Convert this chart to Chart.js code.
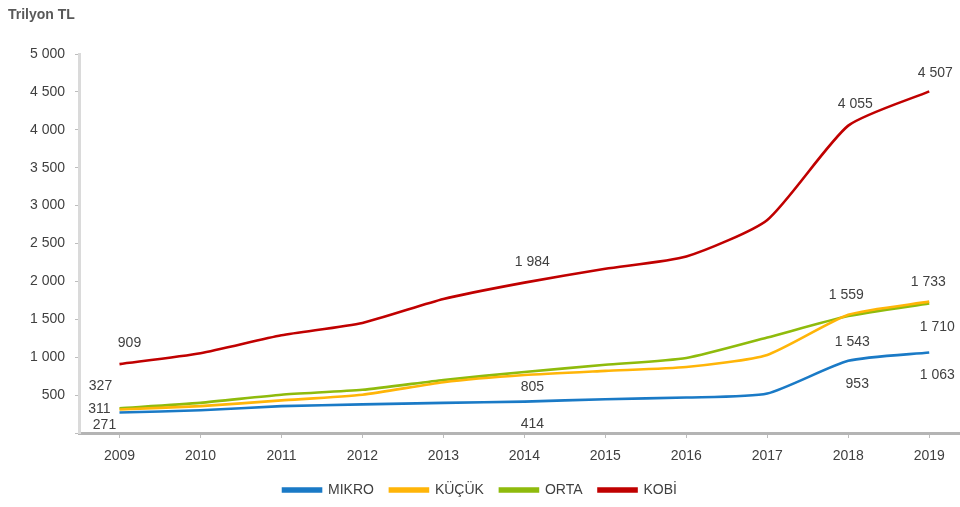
<!DOCTYPE html>
<html>
<head>
<meta charset="utf-8">
<script src="https://cdn.jsdelivr.net/npm/chart.js@4"></script>
<style>
  html, body { margin: 0; padding: 0; background: #fff; overflow: hidden; }
  #wrap { position: relative; width: 960px; height: 507px; }
</style>
</head>
<body>
<div id="wrap"><canvas id="chart" width="960" height="507"></canvas></div>
<script>
// ---- data ----
const years = [2009, 2010, 2011, 2012, 2013, 2014, 2015, 2016, 2017, 2018, 2019];
const mikro = [271, 300, 354, 377, 398, 414, 446, 468, 521, 953, 1063];
const kucuk = [311, 354, 430, 505, 670, 765, 820, 870, 1030, 1559, 1733];
const orta  = [327, 398, 505, 570, 700, 805, 900, 990, 1260, 1543, 1710];
const kobi  = [909, 1052, 1289, 1452, 1768, 1984, 2166, 2328, 2811, 4055, 4507];
const seriesNames = ['MIKRO', 'KÜÇÜK', 'ORTA', 'KOBİ'];
const yTicks = [0, 500, 1000, 1500, 2000, 2500, 3000, 3500, 4000, 4500, 5000];
const unitLabel = 'Trilyon TL';

// which points carry a value label: [series, yearIndex]
const labelled = [[0,0],[0,5],[0,9],[0,10],[1,0],[1,9],[1,10],[2,0],[2,5],[2,9],[2,10],[3,0],[3,5],[3,9],[3,10]];
// label offsets from the point (px)
const labelOffsets = {
  '0,0':[-15,13], '0,5':[8,23], '0,9':[9,23], '0,10':[8,23],
  '1,0':[-20,0],  '1,9':[-2,-20], '1,10':[-1,-19],
  '2,0':[-19,-22], '2,5':[8,15], '2,9':[4,26], '2,10':[8,24],
  '3,0':[10,-21], '3,5':[8,-20], '3,9':[7,-21], '3,10':[6,-18]
};

const colors = ['#1a7ac6', '#ffb508', '#8fbb0c', '#c00000'];
const FONT = "'Liberation Sans', Arial, sans-serif";
const TXT = '#404040';

const fmt = v => String(v).replace(/\B(?=(\d{3})+(?!\d))/g, ' ');

const allSeries = [mikro, kucuk, orta, kobi];
const datasets = allSeries.map((vals, i) => ({
  label: seriesNames[i],
  data: years.map((y, j) => ({ x: y, y: vals[j] })),
  borderColor: colors[i],
  backgroundColor: colors[i],
  borderWidth: 2.6,
  pointRadius: 0,
  tension: 0.2,
  fill: false
}));

const valueLabels = {
  id: 'valueLabels',
  afterDatasetsDraw(chart) {
    const ctx = chart.ctx;
    ctx.save();
    ctx.font = '14px ' + FONT;
    ctx.fillStyle = TXT;
    ctx.textAlign = 'center';
    ctx.textBaseline = 'middle';
    labelled.forEach(([s, i]) => {
      const pt = chart.getDatasetMeta(s).data[i];
      const off = labelOffsets[s + ',' + i];
      ctx.fillText(fmt(allSeries[s][i]), pt.x + off[0], pt.y + off[1]);
    });
    ctx.restore();
  }
};

const unitTitle = {
  id: 'unitTitle',
  afterDraw(chart) {
    const ctx = chart.ctx;
    ctx.save();
    ctx.font = 'bold 14px ' + FONT;
    ctx.fillStyle = '#595959';
    ctx.textBaseline = 'middle';
    ctx.fillText(unitLabel, 8, 15);
    ctx.restore();
  }
};

new Chart(document.getElementById('chart'), {
  type: 'line',
  data: { datasets },
  plugins: [valueLabels, unitTitle],
  options: {
    responsive: false,
    devicePixelRatio: 1,
    animation: false,
    layout: { padding: { top: 54, right: 0, bottom: 0, left: 0 } },
    plugins: {
      legend: {
        position: 'bottom',
        labels: {
          boxWidth: 38, boxHeight: 3, padding: 16,
          color: TXT, font: { family: FONT, size: 14 }
        }
      },
      tooltip: { enabled: false }
    },
    scales: {
      x: {
        type: 'linear',
        min: 2008.5, max: 2019.38,
        afterBuildTicks: s => { s.ticks = years.map(v => ({ value: v })); },
        afterFit: s => { s.height = 34; },
        ticks: { color: TXT, font: { family: FONT, size: 14 }, padding: 10, callback: v => String(v) },
        grid: { drawOnChartArea: false, tickLength: 5, color: '#bdbdbd' },
        border: { color: '#b4b4b4', width: 3 }
      },
      y: {
        min: 0, max: 5000,
        afterBuildTicks: s => { s.ticks = yTicks.map(v => ({ value: v })); },
        afterFit: s => { s.width = 79; },
        ticks: { color: TXT, font: { family: FONT, size: 14 }, padding: 10, callback: v => v === 0 ? '' : fmt(v) },
        grid: { drawOnChartArea: false, tickLength: 4, color: '#bdbdbd' },
        border: { color: '#dadada', width: 3 }
      }
    }
  }
});
</script>
</body>
</html>
